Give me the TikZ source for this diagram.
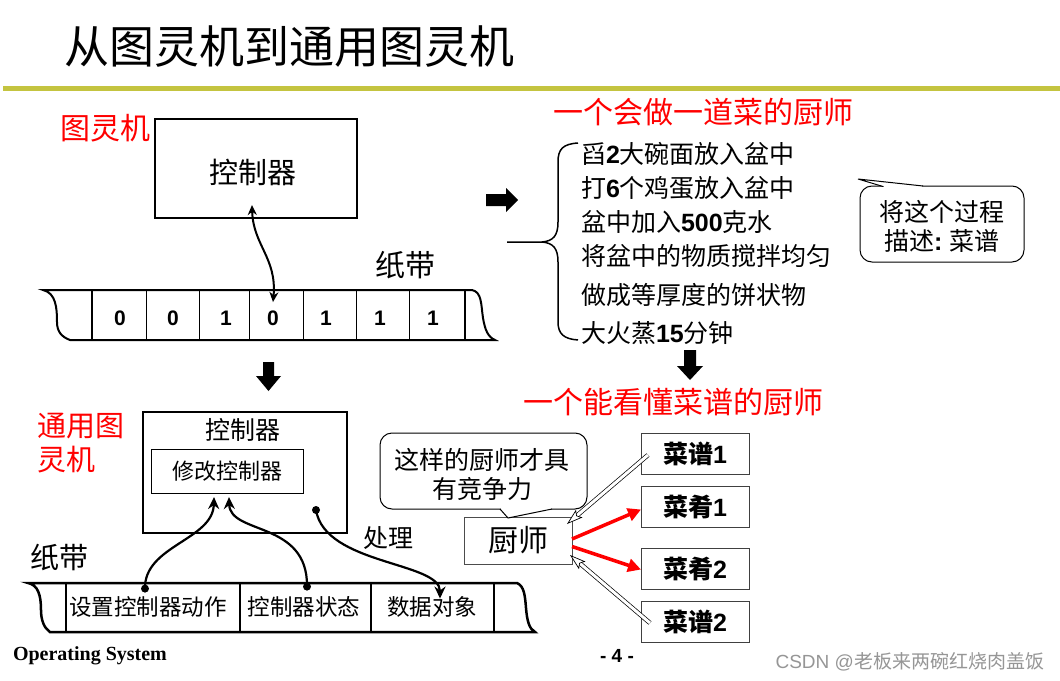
\documentclass[tikz,border=0pt]{standalone}
\usepackage{fontspec}
\setmainfont{Liberation Sans}
\newfontfamily\cjk{Noto Sans CJK SC}
\newfontfamily\lat{Liberation Sans}
\newfontfamily\tms{Liberation Serif}
\usetikzlibrary{arrows.meta,calc}
\newcommand\B[1]{{\lat\bfseries #1}}
\definecolor{barcol}{RGB}{196,196,64}
\definecolor{wmgray}{RGB}{150,150,150}
\begin{document}
\begin{tikzpicture}[x=1pt,y=-1pt,
  every node/.style={inner sep=0pt, outer sep=0pt},
  cjk/.style={font=\cjk\fontsize{#1}{#1}\selectfont},
  dig/.style={font=\lat\bfseries\fontsize{21}{21}\selectfont},
  rbox/.style={draw=black!75, line width=1pt, minimum width=108, minimum height=41, font=\cjk\bfseries\fontsize{25}{25}\selectfont},
  bubble/.style={draw, line width=1pt, rounded corners=12pt, fill=white},
  curvarrow/.style={line width=2.2pt, -{Stealth[length=12pt,width=11pt]}},
  redarrow/.style={red, line width=3.5pt, -{Triangle[length=13pt,width=13pt]}},
  hollowarrow/.style={line width=0.7pt, double=white, double distance=3pt, -{Stealth[open, fill=white, length=16pt, width=10pt, inset=3pt, line width=0.7pt]}}
]
\fill[white] (0,0) rectangle (1060,680);
\useasboundingbox (0,0) rectangle (1060,680);

% title
\node[cjk=45, anchor=west] (title) at (64,47) {从图灵机到通用图灵机};
\fill[barcol] (3,86) rectangle (1060,90.5);

% ---------- Turing machine ----------
\node[cjk=30, text=red] (tm) at (105,128) {图灵机};
\node[draw, line width=1.8pt, minimum width=202, minimum height=99, anchor=north west] (ctrl1) at (155,119) {};
\node[cjk=29] (ctrl1t) at (253,172) {控制器};
\node[cjk=30] (tape1l) at (405,265) {纸带};

\draw[line width=2pt] (43,290) -- (472,290)
  .. controls (482,292) and (481,305) .. (483,318)
  .. controls (485,330) and (488,337) .. (495,340) -- (70,340)
  .. controls (62,337) and (57,332) .. (57,322)
  .. controls (57,308) and (56,293) .. (43,290) -- cycle;
\draw[line width=2pt] (92,290)--(92,340) (465,290)--(465,340);
\foreach \x in {146,199,249,303,356,409} \draw[line width=0.8pt] (\x,290)--(\x,340);
\node[dig] (d1) at (120,318) {0};
\node[dig] (d2) at (173,318) {0};
\node[dig] (d3) at (226,318) {1};
\node[dig] (d4) at (273,318) {0};
\node[dig] (d5) at (326,318) {1};
\node[dig] (d6) at (380,318) {1};
\node[dig] (d7) at (433,318) {1};
\draw[line width=2pt, {Stealth[length=10pt,width=9pt]}-{Stealth[length=10pt,width=9pt]}]
  ($(ctrl1.south)+(-4,-13)$) .. controls (253,245) and (277,258) .. ($(d4.north)+(0,-8.5)$);

% block arrows
\fill (263,362)--(274,362)--(274,376)--(281,376)--(268.5,391)--(256,376)--(263,376)--cycle;
\fill (486,194)--(506,194)--(506,188)--(518,200)--(506,212)--(506,206)--(486,206)--cycle;
\fill (684,350)--(696,350)--(696,366)--(703,366)--(690,380)--(677,366)--(684,366)--cycle;

% ---------- Universal Turing machine ----------
\node[cjk=29, text=red, anchor=west] (utm1) at (37,426) {通用图};
\node[cjk=29, text=red, anchor=west] (utm2) at (37,460) {灵机};
\node[draw, line width=2.5pt, minimum width=204, minimum height=121, anchor=north west] (ctrl2) at (143,412) {};
\node[cjk=25] (ctrl2t) at (243,430) {控制器};
\node[draw, line width=1pt, minimum width=152, minimum height=44, anchor=north west] (mod) at (151,449) {};
\node[cjk=22] (modt) at (227,471) {修改控制器};
\node[cjk=29] (tape2l) at (59,557) {纸带};
\node[cjk=25] (proc) at (388,538) {处理};

\draw[line width=2.5pt] (28,583) -- (517,583)
  .. controls (524,586) and (525,595) .. (526,608)
  .. controls (527,620) and (529,629) .. (535,632) -- (50,632)
  .. controls (44,628) and (41,620) .. (41,610)
  .. controls (41,595) and (38,585) .. (28,583) -- cycle;
\draw[line width=2.5pt] (66,583)--(66,632) (240,583)--(240,632) (371,583)--(371,632) (494,583)--(494,632);
\node[cjk=22.5] (c1) at (148,607) {设置控制器动作};
\node[cjk=22.5] (c2) at (304,607) {控制器状态};
\node[cjk=22.5] (c3) at (432,607) {数据对象};

\coordinate (p1) at ($(c1.north)+(-3,-8)$);
\coordinate (p2) at ($(c2.north)+(3,-10)$);
\coordinate (p3) at ($(ctrl2.south)+(71,-23)$);
\coordinate (q3) at ($(c3.north)+(8,2)$);
\fill (p1) circle (4pt) (p2) circle (4pt) (p3) circle (4pt);
\draw[curvarrow] (p1) .. controls ($(p1)+(-1,-43)$) and ($(mod.south)+(-14,47)$) .. ($(mod.south)+(-13,4)$);
\draw[curvarrow] (p2) .. controls ($(p2)+(1,-66)$) and ($(mod.south)+(3,42)$) .. ($(mod.south)+(2,4)$);
\draw[curvarrow] (p3) .. controls ($(p3)+(9,55)$) and ($(q3)+(0,-37)$) .. (q3);

% ---------- chef / recipes ----------
\node[draw=black!70, line width=1pt, minimum width=108, minimum height=47, cjk=30] (chef) at (518,540.5) {厨师};
\node[bubble, minimum width=207, minimum height=76] (bub2) at (483.5,471) {};
\fill[white] (501,507) rectangle (551,511);
\fill[white] (500,509)--(508,518)--(552,509)--cycle;
\draw[line width=1pt] (500,509)--(508,518)--(552,509);
\node[cjk=25] (bub2a) at (482,460) {这样的厨师才具};
\node[cjk=25] (bub2b) at (482,489) {有竞争力};

\node[rbox] (r1) at (695,453.5) {菜谱\B{1}};
\node[rbox] (k1) at (695,506.5) {菜肴\B{1}};
\node[rbox] (k2) at (695,568.5) {菜肴\B{2}};
\node[rbox] (r2) at (695,621.5) {菜谱\B{2}};

\draw[redarrow] ($(chef.east)+(0,-1.5)$) -- ($(k1.west)+(0,3)$);
\draw[redarrow] ($(chef.east)+(0,6)$) -- ($(k2.west)+(0,1)$);
\draw[hollowarrow] ($(r1.west)+(7,1.5)$) -- ($(chef.north east)+(-5,7)$);
\draw[hollowarrow] ($(r2.west)+(9,1.5)$) -- ($(chef.south east)+(-2,-9)$);

% ---------- recipe list ----------
\node[cjk=30, text=red] (h1) at (703,112) {一个会做一道菜的厨师};
\node[cjk=30, text=red] (h2) at (673,402) {一个能看懂菜谱的厨师};
\draw[line width=1.5pt] (578,143) .. controls (563,144) and (558,149) .. (558,162) -- (558,222)
  .. controls (558,236) and (553,241) .. (542,242) -- (507,242);
\draw[line width=1.5pt] (542,242) .. controls (553,243) and (558,248) .. (558,262) -- (558,322)
  .. controls (558,334) and (564,339) .. (578,340);
\node[cjk=25, anchor=west] (l1) at (581,154) {舀\B{2}大碗面放入盆中};
\node[cjk=25, anchor=west] (l2) at (581,188) {打\B{6}个鸡蛋放入盆中};
\node[cjk=25, anchor=west] (l3) at (581,222) {盆中加入\B{500}克水};
\node[cjk=25, anchor=west] (l4) at (581,256) {将盆中的物质搅拌均匀};
\node[cjk=25, anchor=west] (l5) at (581,295) {做成等厚度的饼状物};
\node[cjk=25, anchor=west] (l6) at (581,333) {大火蒸\B{15}分钟};

\node[bubble, minimum width=164, minimum height=76] (bub1) at (942,224) {};
\fill[white] (884,184.5) rectangle (922,188);
\fill[white] (883,186)--(858,179)--(923,186)--cycle;
\draw[line width=1pt] (883,186.5)--(858,179)--(923,186);
\node[cjk=25] (bub1a) at (942,212) {将这个过程};
\node[cjk=25] (bub1b) at (942,241) {描述\B{:} 菜谱};

% ---------- footer ----------
\node[font=\tms\bfseries\fontsize{20}{20}\selectfont, anchor=west] (os) at (13,656) {Operating System};
\node[font=\lat\bfseries\fontsize{19}{19}\selectfont] (pg) at (617,656) {- 4 -};
\node[font=\cjk\fontsize{19}{19}\selectfont, text=wmgray, anchor=east] (wm) at (1044,662) {{\lat CSDN @}老板来两碗红烧肉盖饭};
\end{tikzpicture}
\end{document}
